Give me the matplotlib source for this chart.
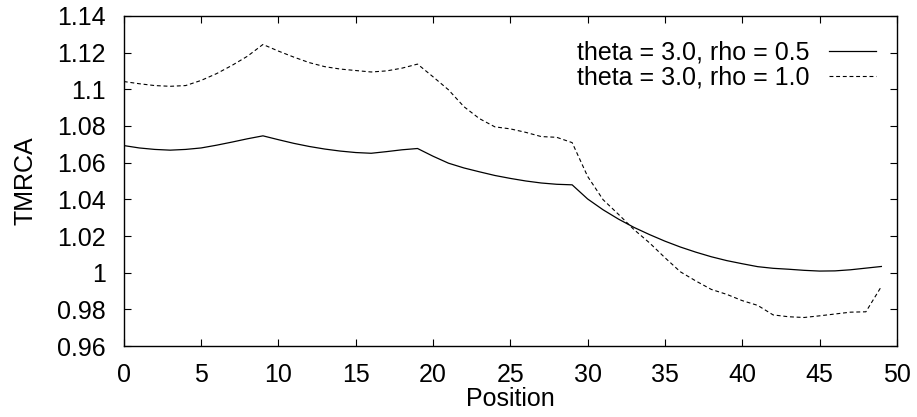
import numpy as np
import matplotlib
matplotlib.use('Agg')
import matplotlib.pyplot as plt
from matplotlib.ticker import FuncFormatter

plt.rcParams['font.family'] = ['Liberation Sans', 'DejaVu Sans']

# positions along the sequence
position = list(range(50))

# theta = 3.0, rho = 0.5
tmrca_rho05 = [1.0693, 1.0680, 1.0672, 1.0668, 1.0672, 1.0680, 1.0695, 1.0712, 1.0730, 1.0746,
               1.0725, 1.0705, 1.0688, 1.0674, 1.0663, 1.0655, 1.0651, 1.0660, 1.0670, 1.0677,
               1.0635, 1.0597, 1.0571, 1.0550, 1.0530, 1.0514, 1.0500, 1.0489, 1.0482, 1.0479,
               1.0402, 1.0343, 1.0292, 1.0247, 1.0208, 1.0172, 1.0140, 1.0112, 1.0087, 1.0066,
               1.0049, 1.0033, 1.0024, 1.0019, 1.0013, 1.0009, 1.0010, 1.0016, 1.0025, 1.0034]

# theta = 3.0, rho = 1.0
tmrca_rho10 = [1.1042, 1.1030, 1.1020, 1.1016, 1.1020, 1.1048, 1.1085, 1.1130, 1.1180, 1.1244,
               1.1208, 1.1175, 1.1145, 1.1123, 1.1110, 1.1102, 1.1094, 1.1100, 1.1115, 1.1137,
               1.1068, 1.0997, 1.0905, 1.0840, 1.0795, 1.0784, 1.0765, 1.0742, 1.0738, 1.0709,
               1.0525, 1.0398, 1.0318, 1.0235, 1.0163, 1.0082, 1.0005, 0.9955, 0.9909, 0.9882,
               0.9848, 0.9822, 0.9770, 0.9760, 0.9756, 0.9765, 0.9775, 0.9785, 0.9787, 0.9925]

xticks = list(range(0, 51, 5))
yticks = [0.96, 0.98, 1.0, 1.02, 1.04, 1.06, 1.08, 1.1, 1.12, 1.14]

fig = plt.figure(figsize=(9.17, 4.17), dpi=100)
ax = fig.add_axes([0.135, 0.170, 0.843, 0.792])

ax.plot(position, tmrca_rho05, color='black', lw=0.9, label='theta = 3.0, rho = 0.5')
ax.plot(position, tmrca_rho10, color='black', lw=0.8, dashes=(3.5, 2.5),
        label='theta = 3.0, rho = 1.0')

ax.set_xlim(0, 50)
ax.set_ylim(0.96, 1.14)
ax.set_xticks(xticks)
ax.set_yticks(yticks)
ax.yaxis.set_major_formatter(FuncFormatter(lambda v, p: '%g' % round(v, 2)))
ax.tick_params(direction='in', top=True, right=True, length=5, width=0.8,
               labelsize=18)
ax.tick_params(axis='x', pad=12)
ax.tick_params(axis='y', pad=13)
for s in ax.spines.values():
    s.set_linewidth(1.0)

ax.set_xlabel('Position', fontsize=18, labelpad=0)
ax.set_ylabel('TMRCA', fontsize=18, labelpad=14)

ax.legend(loc='upper right', bbox_to_anchor=(0.986, 0.955), frameon=False, fontsize=18,
          markerfirst=False, handlelength=1.9, handletextpad=0.75, labelspacing=0.05,
          borderaxespad=0)

fig.savefig('out.png', dpi=100)
